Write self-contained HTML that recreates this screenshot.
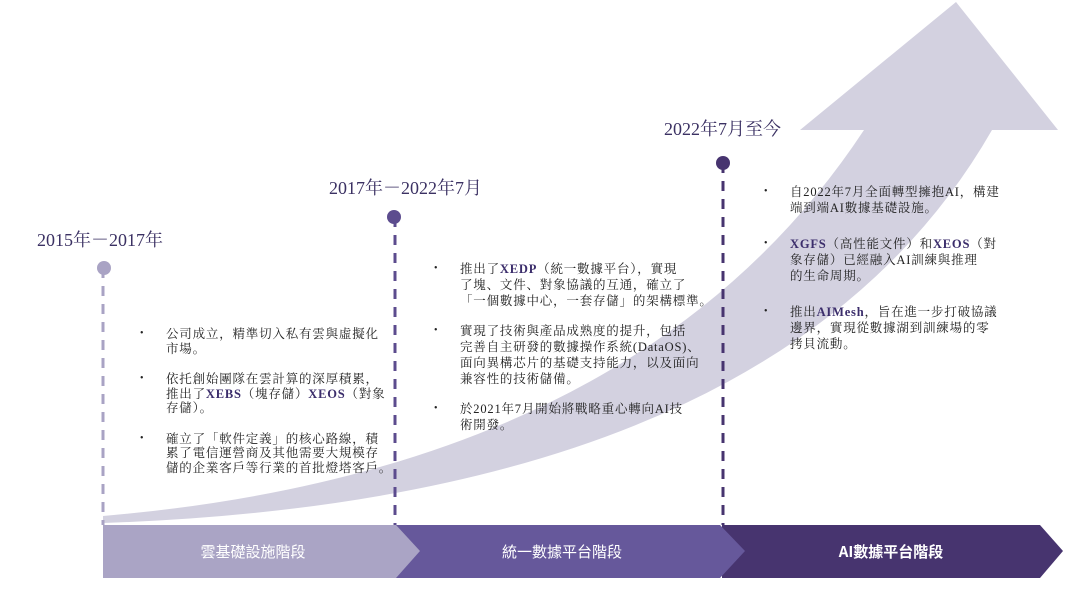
<!DOCTYPE html>
<html><head><meta charset="utf-8"><style>
body{margin:0;width:1075px;height:604px;background:#fff;position:relative;overflow:hidden;font-family:"Liberation Serif","Noto Serif CJK SC","Noto Sans CJK TC",serif;}
.t{position:absolute;font-size:18px;color:#3b3163;white-space:nowrap}
ul{position:absolute;margin:0;padding:0;list-style:none;font-size:12.5px;color:#222;letter-spacing:0.8px;white-space:nowrap}
li{position:relative}
li:before{content:"•";position:absolute;left:-26px;font-size:10px}
b{color:#3b2d6b}
</style></head><body>
<svg width="1075" height="604" style="position:absolute;left:0;top:0">
<path d="M103,516 Q640,470 864,130 L800,130 L956,2 L1058,130 L992,130 Q780,500 103,523 Z" fill="#d3d1e0"/>
<line x1="103" y1="268" x2="103" y2="525" stroke="#a9a3c4" stroke-width="3" stroke-dasharray="10,8"/>
<line x1="395" y1="217" x2="395" y2="525" stroke="#5c4c8e" stroke-width="3" stroke-dasharray="10,8"/>
<line x1="723" y1="163" x2="723" y2="525" stroke="#47346f" stroke-width="3" stroke-dasharray="10,8"/>
<circle cx="104" cy="268" r="7" fill="#a9a3c4"/>
<circle cx="394" cy="217" r="7" fill="#5c4c8e"/>
<circle cx="723" cy="163" r="7" fill="#47346f"/>
<polygon points="722,525 1040,525 1063,551 1040,578 722,578" fill="#47346f"/>
<polygon points="395,525 720,525 745,551 720,578 395,578" fill="#66589b"/>
<polygon points="103,525 396,525 420,551 396,578 103,578" fill="#aaa4c5"/>
<text x="253" y="557" font-size="15" fill="#fff" text-anchor="middle" font-family="Noto Sans CJK TC,sans-serif">雲基礎設施階段</text>
<text x="562" y="557" font-size="15" fill="#fff" text-anchor="middle" font-family="Noto Sans CJK TC,sans-serif">統一數據平台階段</text>
<text x="891" y="557" font-size="15" fill="#fff" text-anchor="middle" font-family="Noto Sans CJK TC,sans-serif" font-weight="bold">AI數據平台階段</text>
</svg>
<div class="t" style="left:37px;top:226px">2015年－2017年</div>
<div class="t" style="left:329px;top:174px">2017年－2022年7月</div>
<div class="t" style="left:664px;top:115px">2022年7月至今</div>
<ul style="left:166px;top:327px;line-height:14.5px">
<li style="margin-bottom:16px">公司成立，精準切入私有雲與虛擬化<br>市場。</li>
<li style="margin-bottom:16px">依托創始團隊在雲計算的深厚積累，<br>推出了<b>XEBS</b>（塊存儲）<b>XEOS</b>（對象<br>存儲）。</li>
<li>確立了「軟件定義」的核心路線，積<br>累了電信運營商及其他需要大規模存<br>儲的企業客戶等行業的首批燈塔客戶。</li>
</ul>
<ul style="left:460px;top:261px;line-height:16px">
<li style="margin-bottom:14px">推出了<b>XEDP</b>（統一數據平台），實現<br>了塊、文件、對象協議的互通，確立了<br>「一個數據中心，一套存儲」的架構標準。</li>
<li style="margin-bottom:14px">實現了技術與產品成熟度的提升，包括<br>完善自主研發的數據操作系統(DataOS)、<br>面向異構芯片的基礎支持能力，以及面向<br>兼容性的技術儲備。</li>
<li>於2021年7月開始將戰略重心轉向AI技<br>術開發。</li>
</ul>
<ul style="left:790px;top:184px;line-height:16px">
<li style="margin-bottom:20px">自2022年7月全面轉型擁抱AI，構建<br>端到端AI數據基礎設施。</li>
<li style="margin-bottom:20px"><b>XGFS</b>（高性能文件）和<b>XEOS</b>（對<br>象存儲）已經融入AI訓練與推理<br>的生命周期。</li>
<li>推出<b>AIMesh</b>，旨在進一步打破協議<br>邊界，實現從數據湖到訓練場的零<br>拷貝流動。</li>
</ul>
</body></html>
